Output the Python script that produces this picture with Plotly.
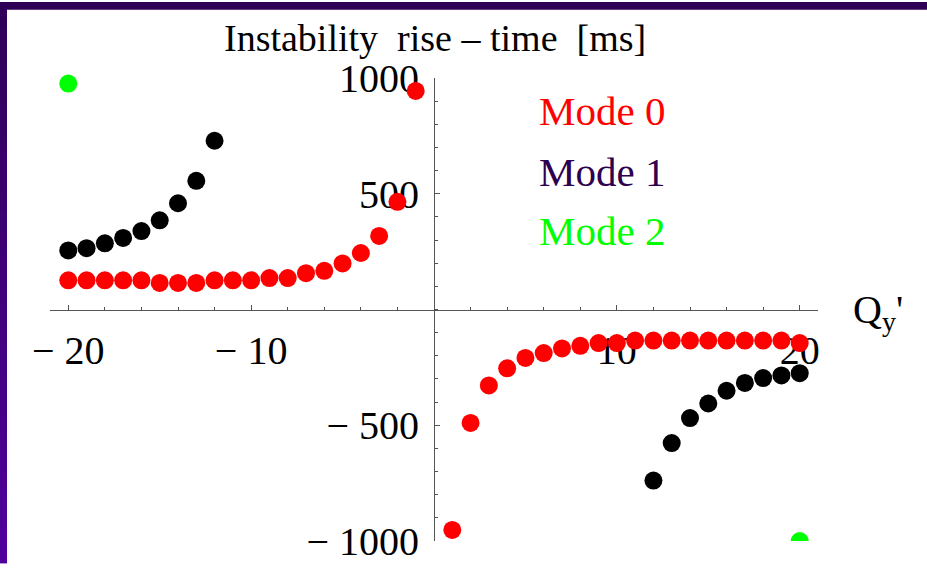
import plotly.graph_objects as go

# ---------------- data ----------------
mode0_x = list(range(-20, 0)) + list(range(1, 21))
mode0_y = [126, 126, 126, 126, 126, 115, 115, 115, 126, 126, 126, 136, 136, 157, 167, 199, 244, 318, 465, 944,
           -952, -490, -328, -254, -209, -188, -168, -157, -145, -145, -134, -134, -134, -134, -134, -134, -134,
           -134, -134, -145]

mode1_x = list(range(-20, -11)) + list(range(12, 21))
mode1_y = [255, 265, 286, 309, 339, 385, 459, 556, 729,
           -739, -577, -469, -406, -351, -317, -296, -285, -275]

mode2_x = [-20, 20]
mode2_y = [976, -1000]

x_tickvals = [-20, -10, 10, 20]
x_ticktext = ["\u2212 20", "\u2212 10", "10", "20"]
y_tickvals = [-1000, -500, 500, 1000]
y_ticktext = ["\u2212 1000", "\u2212 500", "500", "1000"]

legend_labels = ["Mode 0", "Mode 1", "Mode 2"]
legend_colors = ["#ff0000", "#2d0050", "#00ff00"]

# ---------------- layout geometry ----------------
W, H = 927, 576
L, R, T, B = 50, 109, 78, 23
PW, PH = W - L - R, H - T - B


def px2x(px):
    return (px - L) / PW


def py2y(py):
    return (H - B - py) / PH


FONT = "Liberation Serif"
AX = "#555555"

fig = go.Figure()
fig.add_trace(go.Scatter(x=mode0_x, y=mode0_y, mode="markers", cliponaxis=False,
                         marker=dict(size=18, color="#ff0000", line=dict(width=0)), showlegend=False))
fig.add_trace(go.Scatter(x=mode1_x, y=mode1_y, mode="markers", cliponaxis=False,
                         marker=dict(size=18, color="#000000", line=dict(width=0)), showlegend=False))
# Mode 2: points inside the range unclipped, the one at the range edge clipped
m2_in = [(x, y) for x, y in zip(mode2_x, mode2_y) if y > -1000]
m2_edge = [(x, y) for x, y in zip(mode2_x, mode2_y) if y <= -1000]
fig.add_trace(go.Scatter(x=[p[0] for p in m2_in], y=[p[1] for p in m2_in], mode="markers", cliponaxis=False,
                         marker=dict(size=18, color="#00ff00", line=dict(width=0)), showlegend=False))
fig.add_trace(go.Scatter(x=[p[0] for p in m2_edge], y=[p[1] for p in m2_edge], mode="markers", cliponaxis=True,
                         marker=dict(size=18, color="#00ff00", line=dict(width=0)), showlegend=False))

shapes = []
# top purple band
shapes.append(dict(type="rect", xref="paper", yref="paper", x0=px2x(0), x1=px2x(W), y0=py2y(8), y1=py2y(0),
                   fillcolor="#2e0056", line=dict(width=0), layer="below"))
# left purple band with vertical gradient
n = 30
top_c = (46, 0, 86)
bot_c = (80, 0, 156)
for i in range(n):
    y0p = 8 + (H - 8) * i / n
    y1p = 8 + (H - 8) * (i + 1) / n
    t = (i + 0.5) / n
    c = tuple(int(round(top_c[k] + (bot_c[k] - top_c[k]) * t)) for k in range(3))
    shapes.append(dict(type="rect", xref="paper", yref="paper", x0=px2x(0), x1=px2x(7),
                       y0=py2y(y1p), y1=py2y(y0p) + 0.002,
                       fillcolor="rgb(%d,%d,%d)" % c, line=dict(width=0), layer="below"))

annotations = []
annotations.append(dict(text="Instability  rise \u2013 time  [ms]", xref="paper", yref="paper",
                        x=px2x(435), y=py2y(37), xanchor="center", yanchor="middle", showarrow=False,
                        font=dict(family=FONT, size=38, color="black")))
leg_y = [112, 174, 235]
for lab, col, yy in zip(legend_labels, legend_colors, leg_y):
    annotations.append(dict(text=lab, xref="paper", yref="paper", x=px2x(537), y=py2y(yy),
                            xanchor="left", yanchor="middle", showarrow=False,
                            font=dict(family=FONT, size=41, color=col)))
annotations.append(dict(text="Q<sub>y</sub>'", xref="paper", yref="paper", x=px2x(851), y=py2y(318),
                        xanchor="left", yanchor="middle", showarrow=False,
                        font=dict(family=FONT, size=40, color="black")))

fig.update_layout(
    width=W, height=H,
    margin=dict(l=L, r=R, t=T, b=B, pad=0),
    paper_bgcolor="white", plot_bgcolor="white",
    shapes=shapes, annotations=annotations,
    xaxis=dict(range=[-21, 21], anchor="free", position=0.5, showgrid=False, zeroline=False,
               showline=True, linecolor=AX, linewidth=1, layer="below traces",
               tickmode="array", tickvals=x_tickvals, ticktext=x_ticktext,
               ticks="inside", ticklen=5, tickcolor=AX, tickwidth=1,
               minor=dict(ticks="inside", ticklen=3, tickcolor=AX, dtick=2, tick0=0, showgrid=False),
               ticklabelstandoff=5,
               tickfont=dict(family=FONT, size=40, color="black")),
    yaxis=dict(range=[-1000, 1000], anchor="free", position=0.5, showgrid=False, zeroline=False,
               showline=True, linecolor=AX, linewidth=1, layer="below traces",
               tickmode="array", tickvals=y_tickvals, ticktext=y_ticktext,
               ticks="inside", ticklen=5, tickcolor=AX, tickwidth=1,
               minor=dict(ticks="inside", ticklen=3, tickcolor=AX, dtick=100, tick0=0, showgrid=False),
               ticklabelstandoff=7,
               tickfont=dict(family=FONT, size=40, color="black")),
)

fig.write_html("out.html")
